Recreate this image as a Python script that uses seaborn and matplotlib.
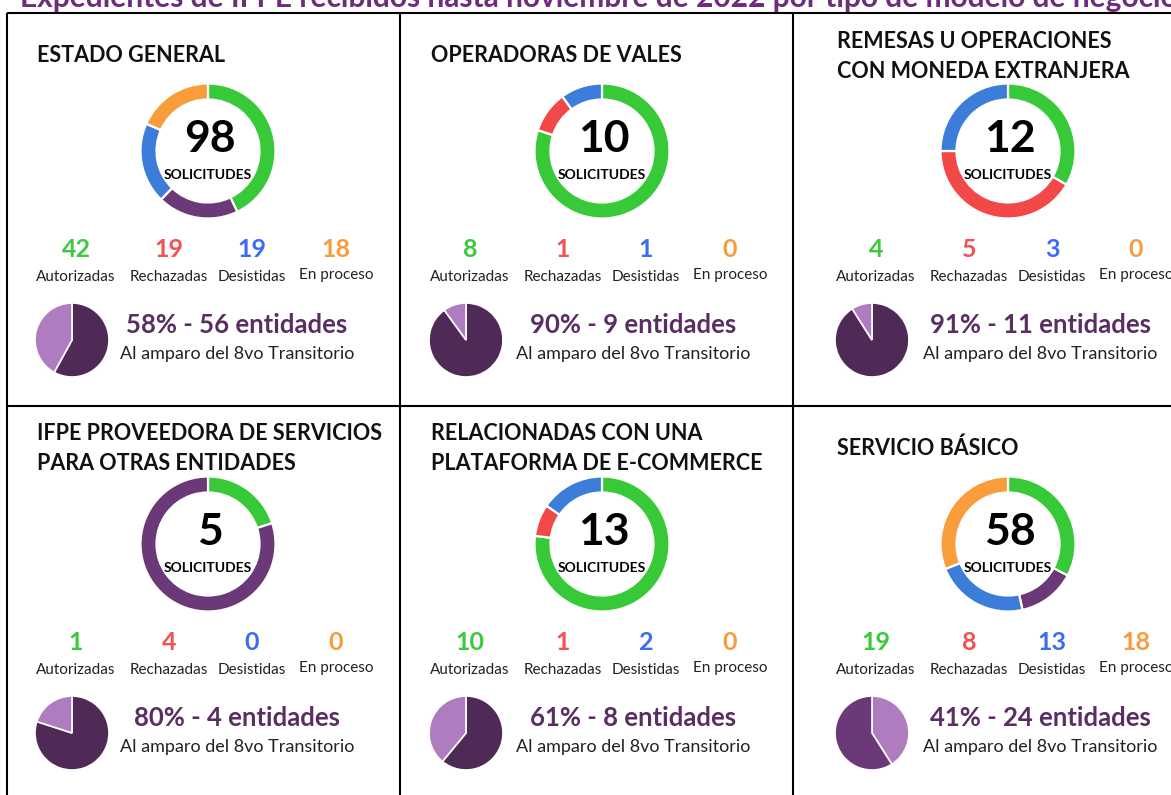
import matplotlib
matplotlib.use("Agg")
import matplotlib.pyplot as plt
import seaborn as sns

# --- data -------------------------------------------------------------------
titles = [
    ["ESTADO GENERAL"],
    ["OPERADORAS DE VALES"],
    ["REMESAS U OPERACIONES", "CON MONEDA EXTRANJERA"],
    ["IFPE PROVEEDORA DE SERVICIOS", "PARA OTRAS ENTIDADES"],
    ["RELACIONADAS CON UNA", "PLATAFORMA DE E-COMMERCE"],
    ["SERVICIO BÁSICO"],
]
status_names = ["Autorizadas", "Rechazadas", "Desistidas", "En proceso"]
autorizadas = [42, 8, 4, 1, 10, 19]
rechazadas = [19, 1, 5, 4, 1, 8]
desistidas = [19, 1, 3, 0, 2, 13]
en_proceso = [18, 0, 0, 0, 0, 18]
pct_8vo = [58, 90, 91, 80, 61, 41]
entidades_8vo = [56, 9, 11, 4, 8, 24]
rechazo_ring = ["morado", "rojo", "rojo", "morado", "rojo", "morado"]
share_is_light = [False, False, False, False, False, True]

main_title = ("Expedientes de IFPE recibidos hasta noviembre de 2022 "
              "por tipo de modelo de negocio")

# --- style ------------------------------------------------------------------
sns.set_theme(style="white")
plt.rcParams["font.family"] = ["Lato", "DejaVu Sans"]

GREEN, RED, BLUE, ORANGE = "#38c938", "#f24848", "#3b7dd8", "#f99d3a"
RING_PURPLE = "#6b3978"
NUM_COLORS = ["#3cc93c", "#f25252", "#3b6cf2", "#f99a3c"]
PIE_DARK, PIE_LIGHT, PIE_MID = "#4f2a56", "#b07cc0", "#6b3978"
TXT_PURPLE = "#5a2d63"
TITLE_PURPLE = "#6e2c7c"

W, H = 1171, 795
fig = plt.figure(figsize=(W / 100, H / 100), dpi=100)
ax = fig.add_axes([0, 0, 1, 1])


def Y(yp):
    return H - yp


# table grid
col_x = [7, 400, 793]
row_y = [13, 406]
lw = 1.5
ax.plot([7, W], [Y(13), Y(13)], color="black", lw=lw, solid_capstyle="butt")
ax.plot([7, W], [Y(406), Y(406)], color="black", lw=lw, solid_capstyle="butt")
for x in col_x:
    ax.plot([x, x], [Y(13), Y(H + 5)], color="black", lw=lw,
            solid_capstyle="butt")

# horizontal shift of contents per column
col_shift = [0, 1, 14]
text_shift = [230, 233, 247]

for i in range(6):
    r, c = divmod(i, 3)
    x0 = col_x[c] + col_shift[c]
    y0 = row_y[r]

    # panel heading
    lines = titles[i]
    ys = [42] if len(lines) == 1 else [28, 58]
    for ln, yy in zip(lines, ys):
        ax.text(x0 + 30, Y(y0 + yy), ln, fontsize=15.5, fontweight="bold",
                color="#111111", ha="left", va="center")

    # donut of applications by status
    vals = [autorizadas[i], rechazadas[i], desistidas[i], en_proceso[i]]
    rej_col = RING_PURPLE if rechazo_ring[i] == "morado" else RED
    cols = [GREEN, rej_col, BLUE, ORANGE]
    keep = [(v, cc) for v, cc in zip(vals, cols) if v > 0]
    cx, cy = x0 + 201, Y(y0 + 138)
    ax.pie([k[0] for k in keep], colors=[k[1] for k in keep],
           center=(cx, cy), radius=67.5, startangle=90, counterclock=False,
           wedgeprops=dict(width=16, edgecolor="white", linewidth=1.6))
    total = sum(vals)
    ax.text(cx + 2, Y(y0 + 139), f"{total}", fontsize=32, fontweight="bold",
            color="black", ha="center", va="baseline")
    ax.text(cx, Y(y0 + 166), "SOLICITUDES", fontsize=10, fontweight="bold",
            color="black", ha="center", va="baseline")

    # counts per status
    num_x = [69, 162, 245, 329]
    for k in range(4):
        ax.text(x0 + num_x[k], Y(y0 + 244), f"{vals[k]}", fontsize=18,
                fontweight="bold", color=NUM_COLORS[k], ha="center",
                va="baseline")
        lab_y = 266 if k == 3 else 268
        ax.text(x0 + num_x[k], Y(y0 + lab_y), status_names[k], fontsize=11,
                color="#222222", ha="center", va="baseline")

    # pie of entities under the 8th transitory article
    p = pct_8vo[i]
    pcols = [PIE_LIGHT, PIE_MID] if share_is_light[i] else [PIE_DARK, PIE_LIGHT]
    ax.pie([p, 100 - p], colors=pcols, center=(x0 + 65, Y(y0 + 327)),
           radius=37, startangle=90, counterclock=False,
           wedgeprops=dict(edgecolor="white", linewidth=1.2))
    tx = col_x[c] + text_shift[c]
    ax.text(tx, Y(y0 + 320), f"{p}% - {entidades_8vo[i]} entidades",
            fontsize=18.5, fontweight="bold", color=TXT_PURPLE, ha="center",
            va="baseline")
    ax.text(tx, Y(y0 + 346), "Al amparo del 8vo Transitorio", fontsize=13,
            color="#222222", ha="center", va="baseline")

# main heading, running past the top and right edges
ax.text(20, Y(7), main_title, fontsize=21.5, fontweight="bold",
        color=TITLE_PURPLE, ha="left", va="baseline")

ax.set_xlim(0, W)
ax.set_ylim(0, H)
ax.set_aspect("auto")
ax.axis("off")

fig.savefig("out.png", dpi=100, facecolor="white")
